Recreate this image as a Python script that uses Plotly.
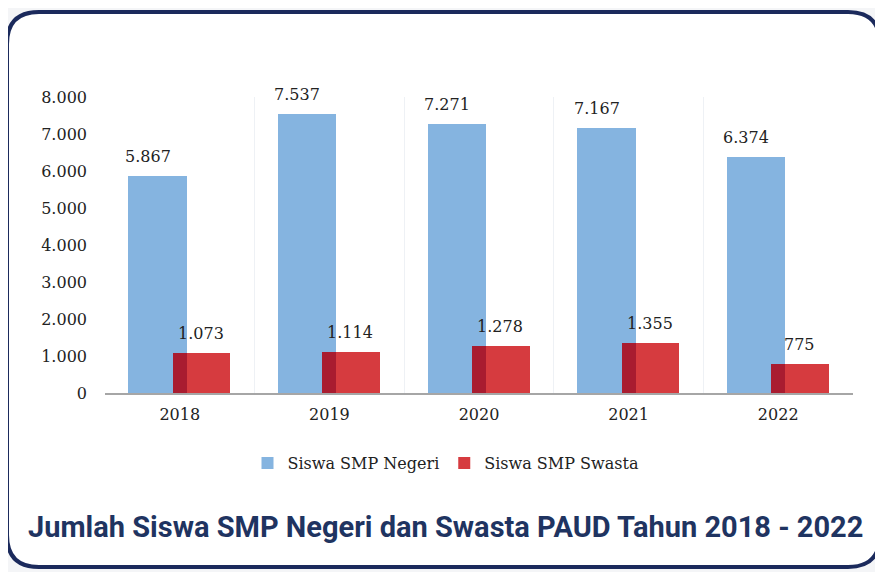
import plotly.graph_objects as go

years = ["2018", "2019", "2020", "2021", "2022"]
negeri = [5867, 7537, 7271, 7167, 6374]
swasta = [1073, 1114, 1278, 1355, 775]
series_names = ["Siswa SMP Negeri", "Siswa SMP Swasta"]
title_text = "Jumlah Siswa SMP Negeri dan Swasta PAUD Tahun 2018 - 2022"

OFF = 8  # page body margin in the browser
W, H = 883 - OFF, 572 - OFF
L, R, T, B = 105 - OFF, 30, 97 - OFF, 179
PW = W - L - R
PH = H - T - B

def px(x):
    return (x - OFF - L) / PW

def py(y):
    return (H - B - (y - OFF)) / PH

serif = "DejaVu Serif, Liberation Serif, serif"
BLUE = "#85B4E0"
RED = "#D63B3F"
DARK = "#A91C30"

fig = go.Figure()
fig.add_trace(go.Bar(
    x=years, y=negeri, name=series_names[0], marker=dict(color=BLUE, line=dict(width=0)),
    width=0.39, offset=-0.343,
))
fig.add_trace(go.Bar(
    x=years, y=swasta, name=series_names[1], marker=dict(color=RED, line=dict(width=0)),
    width=0.385, offset=-0.047,
))
# overlap region (darker where red overlays blue)
fig.add_trace(go.Bar(
    x=years, y=swasta, marker=dict(color=DARK, line=dict(width=0)), width=0.094, offset=-0.047,
    showlegend=False, hoverinfo="skip",
))

def fmt(v):
    return f"{v:,d}".replace(",", ".")

# value labels (category index on the category axis)
for i, v in enumerate(negeri):
    fig.add_annotation(x=i, y=v, xref="x", yref="y", text=fmt(v), showarrow=False,
                       xanchor="center", yanchor="bottom", xshift=-32, yshift=8,
                       font=dict(family=serif, size=16, color="#222"))
for i, v in enumerate(swasta):
    fig.add_annotation(x=i, y=v, xref="x", yref="y", text=fmt(v), showarrow=False,
                       xanchor="center", yanchor="bottom", xshift=21, yshift=8,
                       font=dict(family=serif, size=16, color="#222"))

# rounded frame
x0, x1, y0, y1, r = px(7), px(880), py(567), py(12), 32
rx, ry = r / PW, r / PH
path = (
    f"M {x0+rx},{y1} L {x1-rx},{y1} Q {x1},{y1} {x1},{y1-ry} "
    f"L {x1},{y0+ry} Q {x1},{y0} {x1-rx},{y0} "
    f"L {x0+rx},{y0} Q {x0},{y0} {x0},{y0+ry} "
    f"L {x0},{y1-ry} Q {x0},{y1} {x0+rx},{y1} Z"
)
fig.add_shape(type="path", path=path, xref="paper", yref="paper",
              line=dict(color="#1B2A5C", width=4), fillcolor="white", layer="below")

fig.add_annotation(
    text=f"<b>{title_text}</b>", xref="paper", yref="paper",
    x=px(445), y=py(527), xanchor="center", yanchor="middle", showarrow=False,
    font=dict(family="Roboto, sans-serif", size=29, color="#1F3461"),
)

fig.update_layout(
    width=W, height=H,
    margin=dict(l=L, r=R, t=T, b=B, autoexpand=False),
    paper_bgcolor="#F4F5F7", plot_bgcolor="rgba(0,0,0,0)",
    barmode="overlay", bargap=0,
    separators=",.",
    showlegend=True,
    legend=dict(orientation="h", x=px(446), y=py(463), xanchor="center", yanchor="middle",
                font=dict(family=serif, size=16, color="#222"), bgcolor="rgba(0,0,0,0)",
                traceorder="normal", itemwidth=30),
    xaxis=dict(
        type="category", tickson="boundaries", showgrid=True, gridcolor="#EEF1F5", gridwidth=1,
        showline=True, linecolor="#A6A6A6", linewidth=2, ticks="", ticklabelstandoff=6,
        tickfont=dict(family=serif, size=16, color="#222"), range=[-0.5, 4.5],
    ),
    yaxis=dict(
        range=[0, 8000], tickvals=[0, 1000, 2000, 3000, 4000, 5000, 6000, 7000, 8000],
        tickformat=",d", showgrid=False, zeroline=False, showline=False,
        ticklabelstandoff=17, tickfont=dict(family=serif, size=16, color="#222"),
    ),
)

fig.write_html("out.html")
